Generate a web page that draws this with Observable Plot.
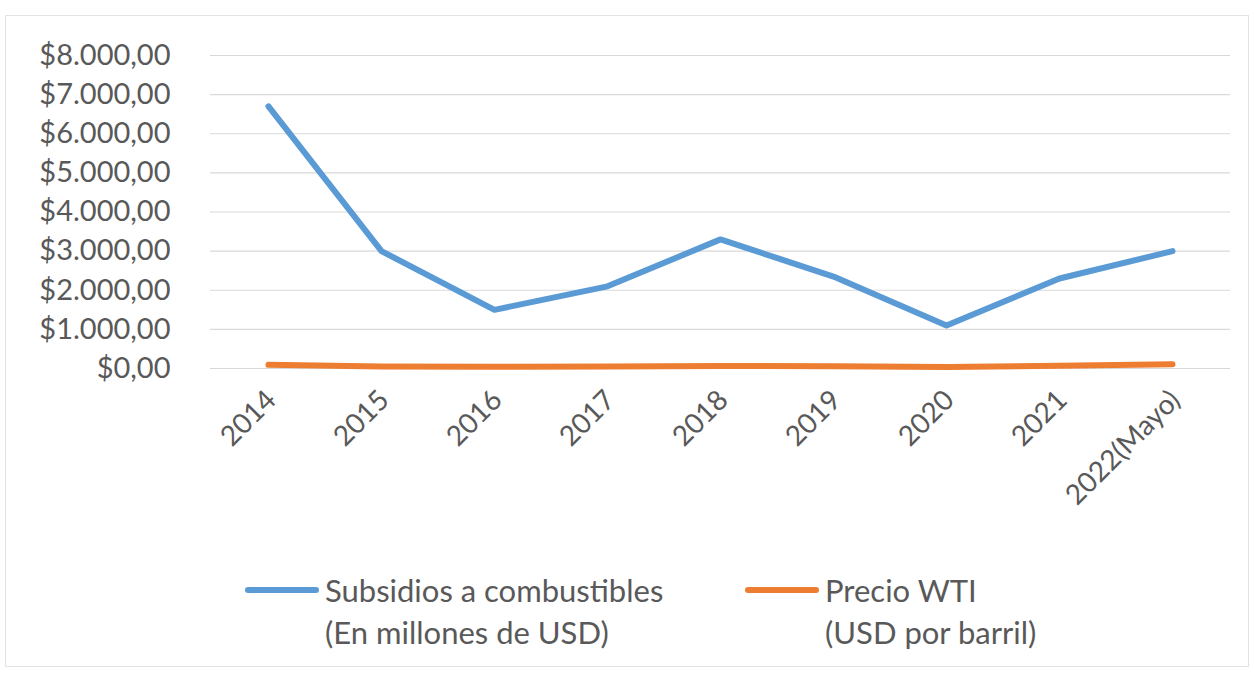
<!DOCTYPE html>
<html>
<head>
<meta charset="utf-8">
<script src="https://cdn.jsdelivr.net/npm/d3@7"></script>
<script src="https://cdn.jsdelivr.net/npm/@observablehq/plot@0.6"></script>
<style>
  html, body { margin: 0; padding: 0; background: #fff; }
  body { width: 1254px; height: 677px; position: relative; overflow: hidden; font-family: Lato, "Open Sans", sans-serif; }
  #frame { position: absolute; left: 5px; top: 15px; width: 1244px; height: 652px; border: 1px solid #e3e3e3; box-sizing: border-box; pointer-events: none; }
  #chart { position: absolute; left: 0; top: 0; }
  .legend { position: absolute; top: 569px; display: flex; align-items: flex-start; color: #595959; font-size: 31px; line-height: 42px; }
  .legend .sw { width: 74px; height: 6px; border-radius: 3px; margin-top: 18px; margin-right: 6px; }
</style>
</head>
<body>
<div id="chart"></div>
<div class="legend" style="left:245px"><div class="sw" style="background:#5B9BD5"></div><div>Subsidios a combustibles<br>(En millones de USD)</div></div>
<div class="legend" style="left:745px"><div class="sw" style="background:#ED7D31"></div><div>Precio WTI<br>(USD por barril)</div></div>
<div id="frame"></div>
<script>
const years = ["2014","2015","2016","2017","2018","2019","2020","2021","2022(Mayo)"];
const subsidios = [6700, 3000, 1500, 2100, 3300, 2350, 1100, 2300, 3000];
const wti = [93.2, 48.7, 43.3, 50.8, 65.2, 57.0, 39.7, 68.2, 109.6];
const yTicks = [0,1000,2000,3000,4000,5000,6000,7000,8000];
const seriesNames = ["Subsidios a combustibles (En millones de USD)", "Precio WTI (USD por barril)"];
const seriesColors = ["#5B9BD5", "#ED7D31"];

const data = [];
years.forEach((y, i) => {
  data.push({year: y, value: subsidios[i], serie: seriesNames[0]});
  data.push({year: y, value: wti[i], serie: seriesNames[1]});
});

const loc = d3.formatLocale({decimal: ",", thousands: ".", grouping: [3], currency: ["$", ""]});
const fmt = loc.format("$,.2f");

const chart = Plot.plot({
  width: 1254,
  height: 560,
  marginLeft: 210,
  marginRight: 24,
  marginTop: 55,
  marginBottom: 192,
  style: {fontFamily: "Lato, 'Open Sans', sans-serif", fontSize: "28px", color: "#595959", background: "transparent"},
  x: {type: "point", domain: years, padding: 0.5, label: null},
  y: {domain: [0, 8000], ticks: yTicks, label: null},
  color: {domain: seriesNames, range: seriesColors},
  marks: [
    Plot.gridY(yTicks, {stroke: "#d9d9d9", strokeOpacity: 1, strokeWidth: 1.2}),
    Plot.axisY(yTicks, {tickSize: 0, tickPadding: 40, tickFormat: fmt, label: null, fill: "#595959", fontSize: 29}),
    Plot.axisX({tickSize: 0, tickPadding: 12, tickRotate: -45, label: null, fill: "#595959", fontSize: 28, dx: 3, dy: 15}),
    Plot.line(data, {x: "year", y: "value", z: "serie", stroke: "serie", strokeWidth: 6, strokeLinecap: "round", strokeLinejoin: "round"})
  ]
});
document.getElementById("chart").appendChild(chart);
</script>
</body>
</html>
